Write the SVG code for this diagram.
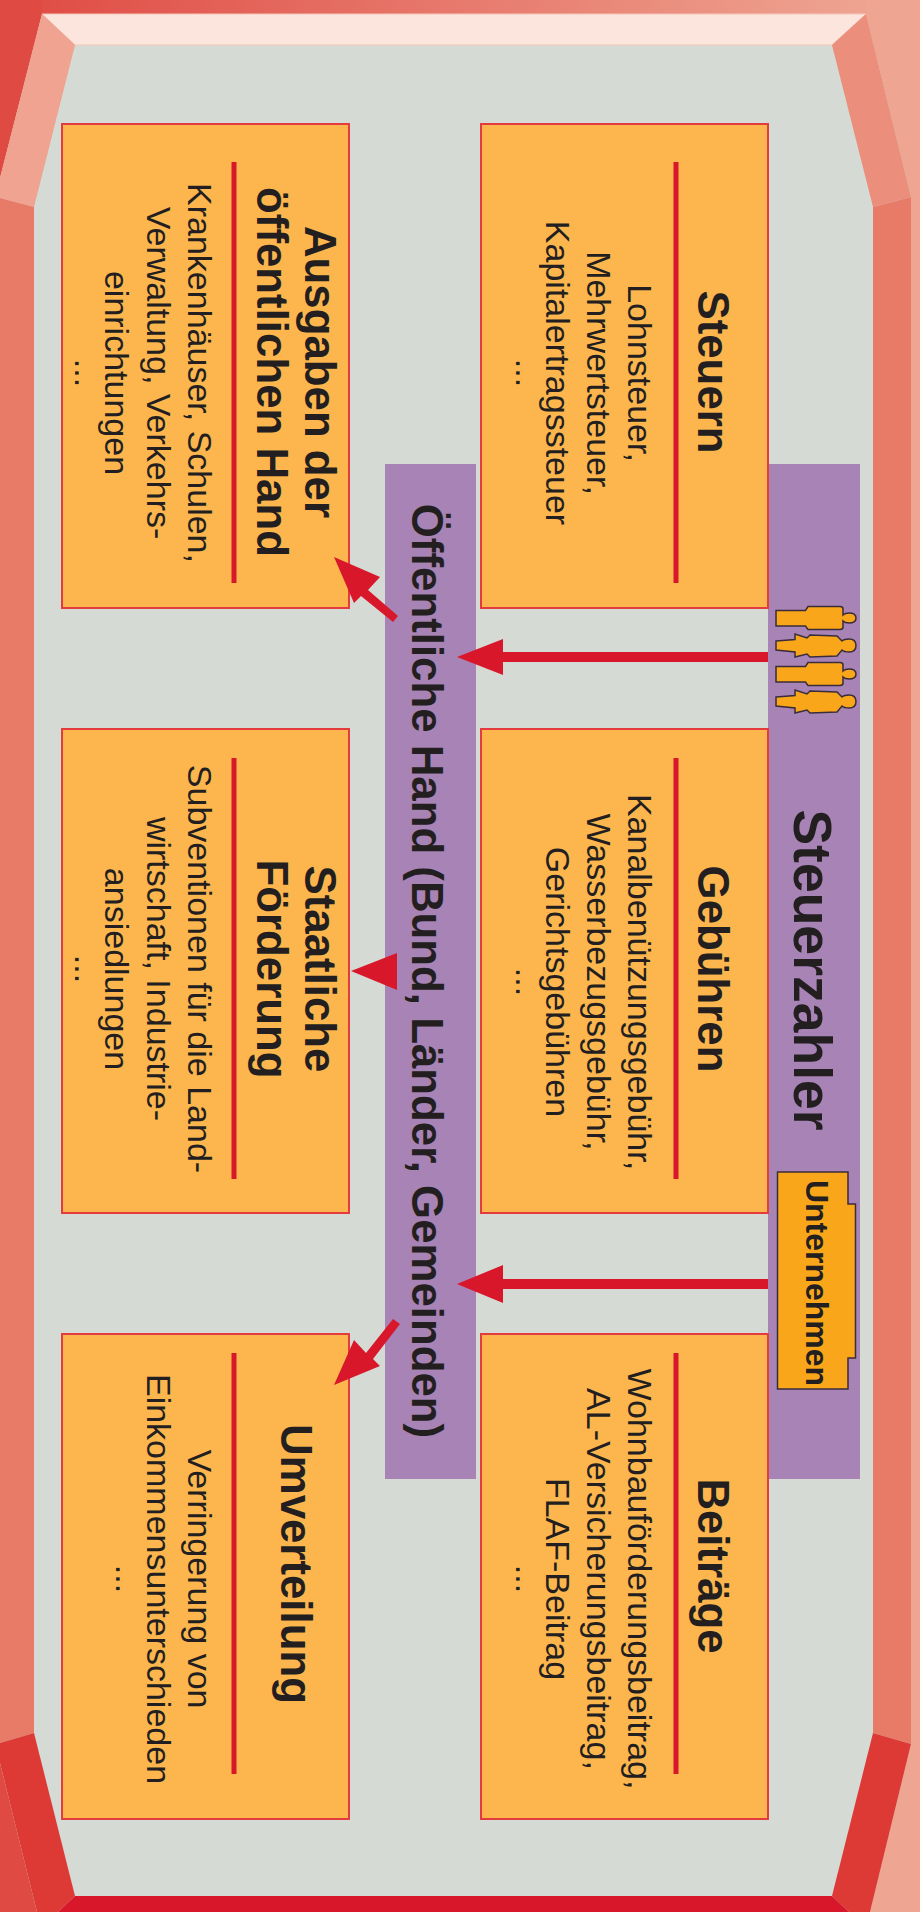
<svg xmlns="http://www.w3.org/2000/svg" width="920" height="1912" viewBox="0 0 920 1912">
<style>
text{font-family:"Liberation Sans",Arial,sans-serif;fill:#231f20;text-anchor:middle}
.b{font-size:34px}
.h{font-size:43.800px;font-weight:bold}
.box{fill:#fdb64e;stroke:#e43b3f;stroke-width:2}
.bar{fill:#a883b5}
.rule{stroke:#d9172b;stroke-width:5}
.ar{fill:#d9172b}
.ic{fill:#faa61a;stroke:#3a2d3a;stroke-width:1.500}
</style>
<defs><linearGradient id="top"><stop offset="0" stop-color="#df4a43"/><stop offset="1" stop-color="#efa996"/></linearGradient></defs>
<g id="frame">
<rect width="920" height="1912" fill="#d5dad4"/>
<rect width="920" height="14" fill="url(#top)"/>
<polygon points="0,0 42,0 42,14 0,178" fill="#df4a43"/>
<polygon points="866,0 920,0 920,1912 870,1912 911,1744 911,197 866,14" fill="#eea692"/>
<polygon points="42,14 866,14 832,45 75,45" fill="#fbe5dd" stroke="#f6c6b8" stroke-width="1"/>
<polygon points="42,14 75,45 34,207 0,198 0,178" fill="#efa390"/>
<polygon points="866,14 832,45 873,207 911,197" fill="#eb8e7b"/>
<polygon points="0,198 34,207 34,1733 0,1743" fill="#e87b68"/>
<polygon points="873,207 911,197 911,1744 873,1733" fill="#e87b68"/>
<polygon points="0,1743 34,1733 75,1896 58,1912 37,1912 0,1763" fill="#dd3a36"/>
<polygon points="0,1763 37,1912 0,1912" fill="#df4a43"/>
<polygon points="873,1733 911,1744 870,1912 849,1912 832,1896" fill="#dd3a36"/>
<polygon points="75,1896 832,1896 849,1912 58,1912" fill="#d9172b"/>
</g>
<g id="bar-steuerzahler"><rect class="bar" x="768" y="464" width="92" height="1015"/>
<text class="h" style="font-size:53.500px" transform="translate(794 970) rotate(90)">Steuerzahler</text></g>
<g id="bar-hand"><rect class="bar" x="385" y="464" width="91" height="1015"/>
<text class="h" transform="translate(412 971) rotate(90)">Öffentliche Hand (Bund, Länder, Gemeinden)</text></g>
<g id="personen">
<path class="ic" d="M776 610.500H805.500L808 606.500H840Q843 606.500 843 609V615Q845 613 849 613Q856 613 856 618Q856 623 849 623Q845 623 843 621V627Q843 629.500 840 629.500H808L805.500 626H776Z"/>
<path class="ic" d="M776 641L795 639.500V634L807 638L810 635L837 636L842 641Q844 639 849 639Q856 639 856 645.500Q856 652 849 652Q844 652 842 650L837 656L810 657L807 654L795 657V652L776 650Z"/>
<path class="ic" d="M776 666.500H805.500L808 662.500H840Q843 662.500 843 665V671Q845 669 849 669Q856 669 856 674Q856 679 849 679Q845 679 843 677V683Q843 685.500 840 685.500H808L805.500 682H776Z"/>
<path class="ic" d="M776 697L795 695.500V690L807 694L810 691L837 692L842 697Q844 695 849 695Q856 695 856 701.500Q856 708 849 708Q844 708 842 706L837 712L810 713L807 710L795 713V708L776 706Z"/>
</g>
<g id="unternehmen"><path class="ic" d="M777.500 1172H848V1204H855.500V1358H848V1389H777.500Z"/>
<text class="h" style="font-size:32px" transform="translate(806 1283) rotate(90)">Unternehmen</text></g>
<g id="steuern"><rect class="box" x="481" y="124" width="287" height="484"/><line class="rule" x1="676" y1="162" x2="676" y2="583"/>
<text class="h" transform="translate(698 372) rotate(90)">Steuern</text>
<text class="b" transform="translate(628 373) rotate(90)">Lohnsteuer,</text>
<text class="b" transform="translate(587 373) rotate(90)">Mehrwertsteuer,</text>
<text class="b" transform="translate(546 373) rotate(90)">Kapitalertragssteuer</text>
<text class="b" transform="translate(516 373) rotate(90)">...</text></g>
<g id="gebuehren"><rect class="box" x="481" y="729" width="287" height="484"/><line class="rule" x1="676" y1="758" x2="676" y2="1179"/>
<text class="h" transform="translate(698 969) rotate(90)">Gebühren</text>
<text class="b" transform="translate(628 982) rotate(90)">Kanalbenützungsgebühr,</text>
<text class="b" transform="translate(587 982) rotate(90)">Wasserbezugsgebühr,</text>
<text class="b" transform="translate(546 982) rotate(90)">Gerichtsgebühren</text>
<text class="b" transform="translate(516 982) rotate(90)">...</text></g>
<g id="beitraege"><rect class="box" x="481" y="1334" width="287" height="485"/><line class="rule" x1="676" y1="1353" x2="676" y2="1774"/>
<text class="h" transform="translate(698 1566) rotate(90)">Beiträge</text>
<text class="b" transform="translate(628 1579) rotate(90)">Wohnbauförderungsbeitrag,</text>
<text class="b" transform="translate(587 1579) rotate(90)">AL-Versicherungsbeitrag,</text>
<text class="b" transform="translate(546 1579) rotate(90)">FLAF-Beitrag</text>
<text class="b" transform="translate(516 1579) rotate(90)">...</text></g>
<g id="ausgaben"><rect class="box" x="62" y="124" width="287" height="484"/><line class="rule" x1="234" y1="162" x2="234" y2="583"/>
<text class="h" transform="translate(305 372) rotate(90)">Ausgaben der</text>
<text class="h" transform="translate(257 372) rotate(90)">öffentlichen Hand</text>
<text class="b" transform="translate(188 373) rotate(90)">Krankenhäuser, Schulen,</text>
<text class="b" transform="translate(147 373) rotate(90)">Verwaltung, Verkehrs-</text>
<text class="b" transform="translate(105 373) rotate(90)">einrichtungen</text>
<text class="b" transform="translate(75 373) rotate(90)">...</text></g>
<g id="foerderung"><rect class="box" x="62" y="729" width="287" height="484"/><line class="rule" x1="234" y1="758" x2="234" y2="1179"/>
<text class="h" transform="translate(305 969) rotate(90)">Staatliche</text>
<text class="h" transform="translate(257 969) rotate(90)">Förderung</text>
<text class="b" transform="translate(188 969) rotate(90)">Subventionen für die Land-</text>
<text class="b" transform="translate(147 969) rotate(90)">wirtschaft, Industrie-</text>
<text class="b" transform="translate(105 969) rotate(90)">ansiedlungen</text>
<text class="b" transform="translate(75 969) rotate(90)">...</text></g>
<g id="umverteilung"><rect class="box" x="62" y="1334" width="287" height="485"/><line class="rule" x1="234" y1="1353" x2="234" y2="1774"/>
<text class="h" transform="translate(281 1564) rotate(90)">Umverteilung</text>
<text class="b" transform="translate(188 1579) rotate(90)">Verringerung von</text>
<text class="b" transform="translate(147 1579) rotate(90)">Einkommensunterschieden</text>
<text class="b" transform="translate(116 1579) rotate(90)">...</text></g>
<g id="connectors">
<polygon class="ar" points="768,652 503,652 503,639 457,657 503,675 503,662 768,662"/>
<polygon class="ar" points="768,1279 503,1279 503,1265 457,1284 503,1303 503,1289 768,1289"/>
<polygon class="ar" points="334,557 380,577 368,590 398,616 393,622 361,596 354,603"/>
<polygon class="ar" points="351,971 397,953 397,990"/>
<polygon class="ar" points="334,1385 354,1340 366,1353 393,1319 400,1324 373,1359 380,1366"/>
</g>
</svg>
